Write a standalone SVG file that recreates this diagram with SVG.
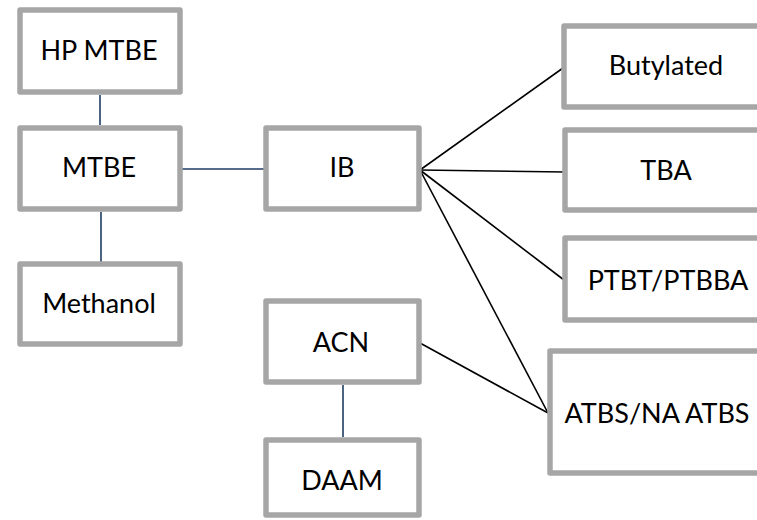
<svg xmlns="http://www.w3.org/2000/svg" width="757" height="520" viewBox="0 0 757 520">
<style>
.box{fill:#fff;stroke:#A6A6A6;stroke-width:5.5;stroke-linejoin:round}
.lbl{font-family:Lato,"Liberation Sans",sans-serif;font-size:27px;fill:#000;text-anchor:middle}
.blue{stroke:#1F3B63;stroke-width:1.6;fill:none}
.blk{stroke:#000;stroke-width:1.6;fill:none}
</style>
<rect width="757" height="520" fill="#fff"/>
<g id="connectors">
<line class="blue" x1="100" y1="95" x2="100" y2="125"/>
<line class="blue" x1="101" y1="212" x2="101" y2="262"/>
<line class="blue" x1="180" y1="169" x2="266" y2="169"/>
<line class="blue" x1="343" y1="385" x2="343" y2="437"/>
<line class="blk" x1="420" y1="170" x2="563" y2="68"/>
<line class="blk" x1="420" y1="170" x2="565" y2="172"/>
<line class="blk" x1="420" y1="170" x2="564" y2="280"/>
<line class="blk" x1="420" y1="170" x2="548" y2="413"/>
<line class="blk" x1="420" y1="343" x2="548" y2="413"/>
</g>
<g id="hp-mtbe"><rect class="box" x="20" y="10" width="160" height="82"/><text class="lbl" x="99" y="60">HP MTBE</text></g>
<g id="mtbe"><rect class="box" x="20" y="128" width="160" height="81"/><text class="lbl" x="99" y="177">MTBE</text></g>
<g id="methanol"><rect class="box" x="20" y="264" width="160" height="80"/><text class="lbl" x="99" y="313">Methanol</text></g>
<g id="ib"><rect class="box" x="266" y="128" width="153" height="81"/><text class="lbl" x="342" y="177">IB</text></g>
<g id="acn"><rect class="box" x="266" y="301" width="153" height="81"/><text class="lbl" x="341" y="352">ACN</text></g>
<g id="daam"><rect class="box" x="266" y="440" width="153" height="75"/><text class="lbl" x="342" y="490">DAAM</text></g>
<g id="butylated"><rect class="box" x="564" y="26" width="210" height="81"/><text class="lbl" x="666" y="75">Butylated</text></g>
<g id="tba"><rect class="box" x="565" y="130" width="210" height="80"/><text class="lbl" x="666" y="180">TBA</text></g>
<g id="ptbt"><rect class="box" x="565" y="238" width="210" height="82"/><text class="lbl" x="668" y="290">PTBT/PTBBA</text></g>
<g id="atbs"><rect class="box" x="550" y="351" width="215" height="122"/><text class="lbl" x="657" y="423">ATBS/NA ATBS</text></g>
</svg>
